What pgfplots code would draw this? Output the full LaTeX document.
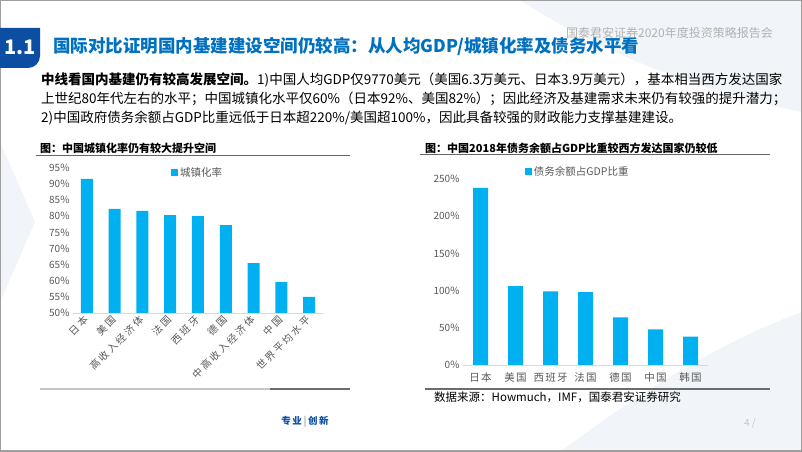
\documentclass[border=0pt]{standalone}
\usepackage{fontspec}
\setmainfont{Noto Sans CJK SC}
\newfontfamily\cjklab[LetterSpace=12]{Noto Sans CJK SC}
\newfontfamily\cjkrot[LetterSpace=22]{Noto Sans CJK SC}
\usepackage{pgfplots}
\pgfplotsset{compat=1.18}
\definecolor{barblue}{HTML}{00B0F0}
\definecolor{titleblue}{HTML}{0070C0}
\definecolor{boxblue}{HTML}{0B4EA2}
\definecolor{ticktxt}{HTML}{595959}
\definecolor{faint}{RGB}{241,245,250}

\pgfplotstableread{
x v
0 91.6
1 82.3
2 81.7
3 80.4
4 80.1
5 77.3
6 65.5
7 59.6
8 55.0
}\urbtable
\pgfplotstableread{
x v
0 238
1 106
2 99
3 98
4 64
5 48
6 38
}\debttable

\begin{document}
\begin{tikzpicture}
\begin{scope}[x=1bp,y=1bp]
\fill[white] (0,0) rectangle (802,452);
% faint background shapes
\fill[faint] (520,452) .. controls (600,400) and (700,360) .. (802,340) -- (802,452) -- cycle;
\fill[faint] (560,0) .. controls (640,60) and (720,110) .. (802,140) -- (802,0) -- cycle;
\fill[faint] (0,150) -- (35,230) -- (0,310) -- cycle;
% frame
\draw[gray!75, line width=1.5bp] (0.75,0.75) rectangle (801.25,451.25);
% title box
\fill[boxblue] (0,424) -- (40,424) -- (40,396) to[out=-90,in=0] (28,384) -- (0,384) -- cycle;
\node[white, font=\fontsize{20bp}{22bp}\selectfont\bfseries] at (20,405) {1.1};
\node[anchor=west, titleblue, font=\fontsize{17.5bp}{20bp}\selectfont\bfseries, inner sep=0] at (53,405) {国际对比证明国内基建建设空间仍较高：从人均GDP/城镇化率及债务水平看};
\node[anchor=east, gray!60, font=\fontsize{12bp}{14bp}\selectfont, inner sep=0] at (773,419) {国泰君安证券2020年度投资策略报告会};
% body text
\begin{scope}[every node/.style={anchor=west, inner sep=0, font=\fontsize{13.5bp}{16bp}\selectfont}]
\node at (41,372) {{\bfseries 中线看国内基建仍有较高发展空间。}1)中国人均GDP仅9770美元（美国6.3万美元、日本3.9万美元），基本相当西方发达国家};
\node at (41,353) {上世纪80年代左右的水平；中国城镇化水平仅60\%（日本92\%、美国82\%）；因此经济及基建需求未来仍有较强的提升潜力；};
\node at (41,334) {2)中国政府债务余额占GDP比重远低于日本超220\%/美国超100\%，因此具备较强的财政能力支撑基建建设。};
\end{scope}
% chart headings
\node[anchor=west, inner sep=0, font=\fontsize{11bp}{13bp}\selectfont\bfseries] at (40,304) {图：中国城镇化率仍有较大提升空间};
\node[anchor=west, inner sep=0, font=\fontsize{11bp}{13bp}\selectfont\bfseries] at (425,304) {图：中国2018年债务余额占GDP比重较西方发达国家仍较低};
\draw[gray!80!black, line width=1bp] (36,296) -- (350,296);
\draw[gray!80!black, line width=1bp] (420,297) -- (770,297);
\draw[gray!45, line width=1.2bp] (40,63) -- (350,63);
\draw[gray!85!black, line width=1.2bp] (270,63) -- (350,63);
\draw[gray!85!black, line width=1.2bp] (425,63) -- (770,63);
\node[anchor=west, inner sep=0, font=\fontsize{11.5bp}{13bp}\selectfont] at (434,55) {数据来源：Howmuch，IMF，国泰君安证券研究};
% footer
\node[boxblue, font=\fontsize{9.5bp}{11bp}\selectfont\bfseries] at (305,30) {专\,业\,{\color{gray!60}|}\,创\,新};
\node[gray!45, font=\fontsize{10bp}{11bp}\selectfont] at (750,29) {4 /};
\end{scope}

% left chart
\begin{axis}[
  at={(73bp,139bp)}, anchor=south west,
  scale only axis, width=250bp, height=145bp,
  xmin=-0.5, xmax=8.5, ymin=50, ymax=95,
  ybar, bar width=12bp,
  axis lines*=left,
  x axis line style={gray!30, line width=0.8bp},
  y axis line style={draw=none},
  tick style={draw=none},
  ytick={50,55,...,95},
  yticklabels={50\%,55\%,60\%,65\%,70\%,75\%,80\%,85\%,90\%,95\%},
  y tick label style={font=\fontsize{10bp}{11bp}\selectfont, text=ticktxt},
  xtick={0,...,8},
  xticklabels={日本,美国,高收入经济体,法国,西班牙,德国,中高收入经济体,中国,世界平均水平},
  x tick label style={rotate=45, anchor=east, inner sep=1bp, font=\fontsize{10bp}{11bp}\selectfont\cjkrot, text=ticktxt},
  legend style={draw=none, fill=none, at={(0.38,0.966)}, anchor=west, font=\fontsize{10.5bp}{12bp}\selectfont, text=ticktxt},
  legend image code/.code={\fill[barblue] (0bp,-3.5bp) rectangle (7bp,3.5bp);},
]
\addplot[fill=barblue, draw=none] table[x=x, y=v] {\urbtable};
\addlegendentry{城镇化率}
\end{axis}

% right chart
\begin{axis}[
  at={(463bp,87bp)}, anchor=south west,
  scale only axis, width=245bp, height=186bp,
  xmin=-0.5, xmax=6.5, ymin=0, ymax=250,
  ybar, bar width=15bp,
  axis lines*=left,
  x axis line style={gray!30, line width=0.8bp},
  y axis line style={draw=none},
  tick style={draw=none},
  ytick={0,50,...,250},
  yticklabels={0\%,50\%,100\%,150\%,200\%,250\%},
  y tick label style={font=\fontsize{10bp}{11bp}\selectfont, text=ticktxt},
  xtick={0,...,6},
  xticklabels={日本,美国,西班牙,法国,德国,中国,韩国},
  x tick label style={font=\fontsize{10.5bp}{12bp}\selectfont\cjklab, text=ticktxt},
  legend style={draw=none, fill=none, at={(0.24,1.04)}, anchor=west, font=\fontsize{10.5bp}{12bp}\selectfont, text=ticktxt},
  legend image code/.code={\fill[barblue] (0bp,-3.5bp) rectangle (7bp,3.5bp);},
  clip=false,
]
\addplot[fill=barblue, draw=none] table[x=x, y=v] {\debttable};
\addlegendentry{债务余额占GDP比重}
\end{axis}
\end{tikzpicture}
\end{document}
